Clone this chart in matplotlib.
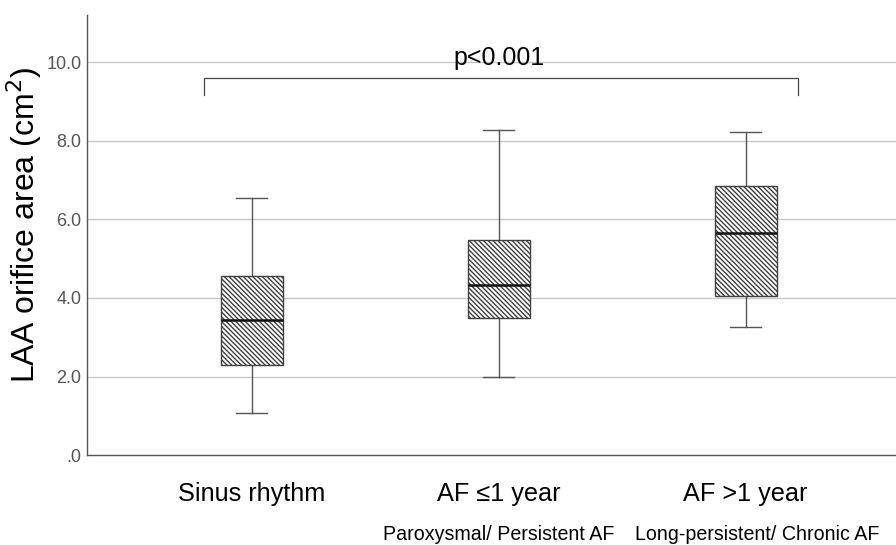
import matplotlib.pyplot as plt
from matplotlib.ticker import FuncFormatter
import matplotlib.transforms as mtransforms

plt.rcParams['font.family'] = ['Liberation Sans', 'DejaVu Sans']
plt.rcParams['hatch.color'] = '#404040'
plt.rcParams['hatch.linewidth'] = 1.0

# group names and box statistics
groups = ['Sinus rhythm', 'AF \u22641 year', 'AF >1 year']
subtitles = ['', 'Paroxysmal/ Persistent AF', 'Long-persistent/ Chronic AF']
whisker_low = [1.06, 1.98, 3.25]
q1 = [2.30, 3.50, 4.05]
median = [3.45, 4.34, 5.65]
q3 = [4.57, 5.47, 6.85]
whisker_high = [6.55, 8.27, 8.22]
p_text = 'p<0.001'

stats = []
for i in range(len(groups)):
    stats.append({'whislo': whisker_low[i], 'q1': q1[i], 'med': median[i],
                  'q3': q3[i], 'whishi': whisker_high[i], 'fliers': []})

fig = plt.figure(figsize=(8.96, 5.45), dpi=100)
ax = fig.add_axes([0.097, 0.165, 0.903, 0.807])

positions = [1, 2, 3]
bp = ax.bxp(stats, positions=positions, widths=0.25, capwidths=0.125,
            patch_artist=True, showfliers=False,
            boxprops=dict(facecolor='white', edgecolor='#404040', linewidth=1.0,
                          hatch='\\' * 7),
            medianprops=dict(color='#111111', linewidth=1.8),
            whiskerprops=dict(color='#555555', linewidth=1.0),
            capprops=dict(color='#555555', linewidth=1.0))
for b in bp['boxes']:
    b.set_zorder(3)
for m in bp['medians']:
    m.set_zorder(4)

ax.set_xlim(0.332, 3.609)
ax.set_ylim(0, 11.2)
ax.set_yticks([0, 2, 4, 6, 8, 10])
ax.yaxis.set_major_formatter(FuncFormatter(lambda v, _: '.0' if v == 0 else f'{v:.1f}'))
ax.tick_params(axis='y', length=0, labelsize=13, colors='#555555', pad=4)
ax.tick_params(axis='x', length=0, labelbottom=False)
for y in [2, 4, 6, 8, 10]:
    ax.axhline(y, color='#c8c8c8', linewidth=1.0, zorder=0)

for s in ['top', 'right']:
    ax.spines[s].set_visible(False)
for s in ['left', 'bottom']:
    ax.spines[s].set_color('#555555')
    ax.spines[s].set_linewidth(1.0)

# y axis title, placed by hand so it sits where the reference has it
fig.text(24 / 896, 1 - 225 / 545, 'LAA orifice area (cm$^2$)', rotation=90,
         ha='center', va='center', fontsize=23)

# category labels below the axis
trans = mtransforms.blended_transform_factory(ax.transData, fig.transFigure)
sub_shift = [0, 0, 0.045]
for x, g, s, dx in zip(positions, groups, subtitles, sub_shift):
    ax.text(x, 1 - 494 / 545, g, transform=trans, ha='center', va='center', fontsize=18.2)
    if s:
        ax.text(x + dx, 1 - 534 / 545, s, transform=trans, ha='center', va='center', fontsize=14.1)

# significance bracket
x0, x1 = 0.806, 3.211
ax.plot([x0, x0, x1, x1], [9.18, 9.6, 9.6, 9.18], color='#444444', linewidth=0.9, zorder=4)
ax.text(2.0, 10.12, p_text, ha='center', va='center', fontsize=18, zorder=5)

fig.savefig('out.png', dpi=100)
